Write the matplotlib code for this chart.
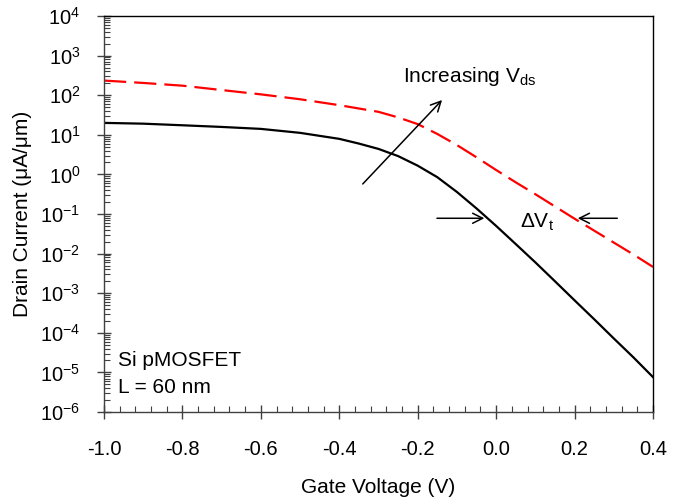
import matplotlib
matplotlib.use("Agg")
import matplotlib.pyplot as plt
from matplotlib.ticker import MultipleLocator, LogLocator, FixedLocator, FuncFormatter, NullFormatter
import numpy as np

plt.rcParams['font.family'] = ['Liberation Sans', 'DejaVu Sans']
plt.rcParams['mathtext.fontset'] = 'custom'
plt.rcParams['mathtext.rm'] = 'Liberation Sans'
plt.rcParams['mathtext.it'] = 'Liberation Sans'
plt.rcParams['axes.unicode_minus'] = False

# Gate voltage (V)
vg = [-1.0, -0.9, -0.8, -0.7, -0.6, -0.5, -0.4, -0.35, -0.3, -0.25, -0.2, -0.15,
      -0.1, -0.05, 0.0, 0.05, 0.1, 0.15, 0.2, 0.25, 0.3, 0.35, 0.4]
# Drain current (uA/um), low Vds (black solid)
id_low = [20.0, 19.1, 17.4, 15.8, 14.1, 11.2, 7.9, 6.0, 4.4, 2.9, 1.66, 0.85,
          0.36, 0.138, 0.050, 0.0174, 6.0e-3, 2.0e-3, 6.6e-4, 2.2e-4, 7.2e-5, 2.4e-5, 7.6e-6]
# Gate voltage (V) for high Vds
vg_high = [-1.0, -0.9, -0.8, -0.7, -0.6, -0.5, -0.4, -0.3, -0.25, -0.2, -0.15,
           -0.1, -0.05, 0.0, 0.05, 0.1, 0.15, 0.2, 0.25, 0.3, 0.35, 0.4]
# Drain current (uA/um), high Vds (red dashed)
id_high = [234, 204, 174, 135, 105, 79, 56, 38, 27.5, 18.6, 10.5,
           5.5, 2.7, 1.29, 0.63, 0.316, 0.155, 0.076, 0.038, 0.019, 0.0095, 0.0046]

x_ticks = [-1.0, -0.8, -0.6, -0.4, -0.2, 0.0, 0.2, 0.4]
y_exps = [-6, -5, -4, -3, -2, -1, 0, 1, 2, 3, 4]

FS = 15
TFS = 14.5

fig = plt.figure(figsize=(6.73, 5.04), dpi=100)
ax = fig.add_axes([104/673, 92/504, 549/673, 396/504])

ax.plot(vg, id_low, color='black', lw=1.6, solid_joinstyle='round')
ax.plot(vg_high, id_high, color='#ff0000', lw=1.6, dashes=(10, 3.6))

ax.set_yscale('log')
ax.set_xlim(-1.0, 0.4)
ax.set_ylim(1e-6, 1e4)

ax.xaxis.set_major_locator(FixedLocator(x_ticks))
ax.xaxis.set_minor_locator(MultipleLocator(0.04))
ax.xaxis.set_major_formatter(FuncFormatter(lambda v, p: f"{v:.1f}"))
ax.yaxis.set_major_locator(FixedLocator([10.0**e for e in y_exps]))
ax.yaxis.set_minor_locator(LogLocator(base=10, subs=np.arange(2, 10), numticks=20))
ax.yaxis.set_minor_formatter(NullFormatter())
ax.yaxis.set_major_formatter(FuncFormatter(
    lambda v, p: "10$^{\\mathregular{%d}}$" % int(round(np.log10(v))) if v > 0 else ""))

ax.tick_params(axis='both', which='major', direction='inout', length=10, width=1.0,
               color='#404040', labelsize=TFS)
ax.tick_params(axis='both', which='minor', direction='in', length=4, width=0.8, color='#404040')
ax.tick_params(axis='x', which='major', pad=15)
ax.tick_params(axis='y', which='major', pad=12)
for s in ax.spines.values():
    s.set_linewidth(1.0)
    s.set_color('black')
ax.spines['bottom'].set_color('#404040')
ax.spines['left'].set_color('#404040')

ax.set_xlabel('Gate Voltage (V)', fontsize=FS, labelpad=14)
ax.set_ylabel('Drain Current (\u03bcA/\u03bcm)', fontsize=FS, labelpad=6)

# annotations
ax.annotate('', xy=(-0.133, 85), xytext=(-0.345, 0.51),
            arrowprops=dict(arrowstyle='->', color='black', lw=1.1, mutation_scale=18))
ax.text(-0.237, 300, 'Increasing V$_{\\mathregular{ds}}$', fontsize=FS, ha='left', va='center')
ax.annotate('', xy=(-0.023, 0.078), xytext=(-0.158, 0.078),
            arrowprops=dict(arrowstyle='->', color='black', lw=1.1, mutation_scale=18))
ax.annotate('', xy=(0.201, 0.078), xytext=(0.316, 0.078),
            arrowprops=dict(arrowstyle='->', color='black', lw=1.1, mutation_scale=18))
ax.text(0.062, 0.062, '\u0394V$_{\\mathregular{t}}$', fontsize=FS, ha='left', va='center')

ax.text(-0.964, 2.0e-5, 'Si pMOSFET', fontsize=FS, ha='left', va='center')
ax.text(-0.964, 4.1e-6, 'L = 60 nm', fontsize=FS, ha='left', va='center')

fig.savefig('out.png', dpi=100)
